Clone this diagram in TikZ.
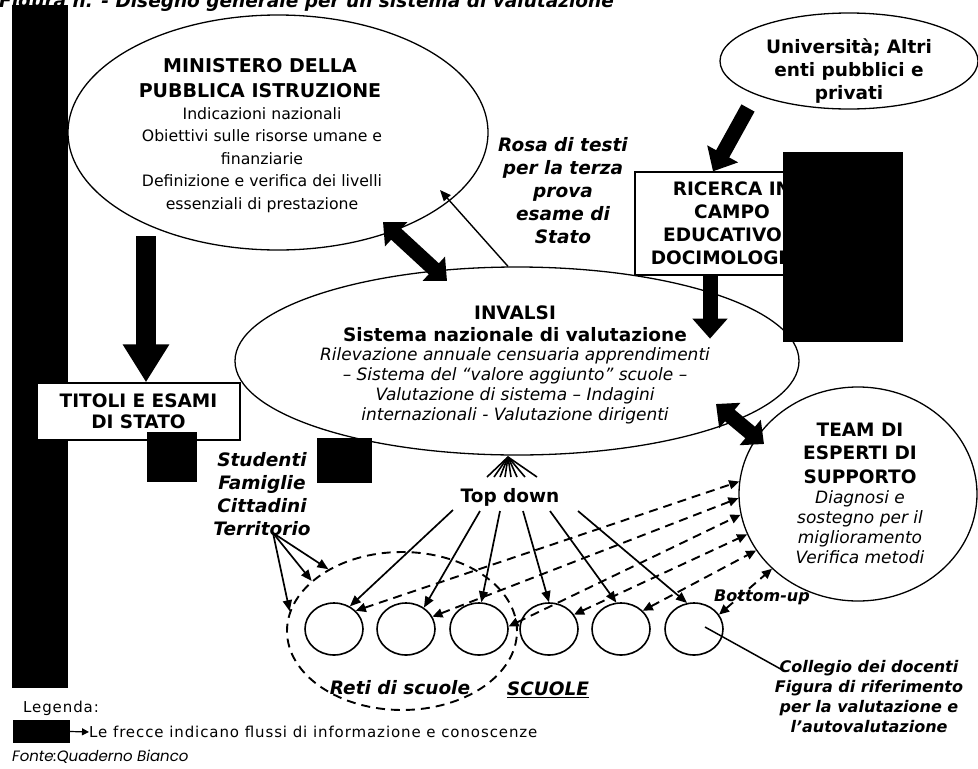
\documentclass[tikz,border=0pt]{standalone}
\usepackage{fontspec}
\setmainfont{DejaVu Sans}
\newfontfamily\legfont{DejaVu Sans}[LetterSpace=6]
\newfontfamily\srcfont{Poppins}
\usetikzlibrary{shapes.geometric,arrows.meta}
\newcommand{\fHd}{\fontsize{18.5}{23}\selectfont\bfseries}
\newcommand{\fReg}{\fontsize{15.7}{22.5}\selectfont\mdseries\upshape}
\newcommand{\fIt}{\fontsize{17}{20}\selectfont\mdseries\itshape}
\newcommand{\fBi}{\fontsize{18.5}{23}\selectfont\bfseries\itshape}
\newcommand{\fBs}{\fontsize{16}{20}\selectfont\bfseries\itshape}
\begin{document}
\begin{tikzpicture}[x=1pt,y=-1pt,
  outl/.style={draw=black,line width=1.3pt},
  oval/.style={ellipse,outl,inner sep=0pt},
  txt/.style={align=center,inner sep=0pt},
  fat/.style={draw=black,line width=15pt,-{Triangle[length=20pt,width=34pt]}},
  fatdbl/.style={draw=black,line width=15pt,{Triangle[length=18pt,width=32pt]}-{Triangle[length=18pt,width=32pt]}},
  thinarr/.style={draw=black,line width=1.7pt,-{Triangle[length=11pt,width=9pt]}},
  dasharr/.style={draw=black,line width=1.9pt,dash pattern=on 9pt off 6pt,{Triangle[length=10pt,width=9pt]}-{Triangle[length=10pt,width=9pt]}},
  school/.style={ellipse,outl,line width=1.6pt,minimum width=58pt,minimum height=52pt,inner sep=0pt},
]
\useasboundingbox (0,0) rectangle (978,769);
% title (cut at the top, as in the reference)
\node[anchor=base west,inner sep=0pt,font=\fBi] (title) at (-1,7) {Figura n. - Disegno generale per un sistema di valutazione};
% left bar
\fill (12,5) rectangle (68,688);
% ovals
\node[oval,minimum width=420pt,minimum height=235pt] (min) at (278,132.5) {};
\node[oval,minimum width=258pt,minimum height=96pt] (univ) at (849,61) {};
\node[oval,minimum width=564pt,minimum height=188pt] (inv) at (517,361) {};
\node[oval,fill=white,minimum width=238pt,minimum height=214pt] (team) at (858,494) {};
\node[ellipse,draw=black,line width=1.9pt,dash pattern=on 9pt off 6pt,minimum width=230pt,minimum height=158pt,inner sep=0pt] (reti) at (402,631) {};
% schools
\node[school] (s1) at (334,629) {};
\node[school] (s2) at (406,629) {};
\node[school] (s3) at (479,629) {};
\node[school] (s4) at (549,629) {};
\node[school] (s5) at (621,629) {};
\node[school] (s6) at (694,629) {};
% boxes
\node[outl,fill=white,minimum width=203pt,minimum height=57pt,inner sep=0pt,align=center,font={\fontsize{18.5}{21}\selectfont\bfseries}] (titoli) at (138.5,411.5) {TITOLI E ESAMI\\DI STATO};
\node[outl,fill=white,minimum width=194pt,minimum height=103pt,inner sep=0pt,align=center,font=\fHd] (ric) at (732,223.5) {RICERCA IN\\CAMPO\\EDUCATIVO E\\DOCIMOLOGICA};
% texts
\node[txt,font={\fontsize{19}{24.5}\selectfont\bfseries}] (minh) at (260,78) {MINISTERO DELLA\\PUBBLICA ISTRUZIONE};
\node[txt,font=\fReg] (minb) at (262,160) {Indicazioni nazionali\\Obiettivi sulle risorse umane e\\finanziarie\\Definizione e verifica dei livelli\\essenziali di prestazione};
\node[txt,font=\fHd] (univt) at (849,71) {Università; Altri\\enti pubblici e\\privati};
\node[txt,font=\fBi] (rosa) at (563,191) {Rosa di testi\\per la terza\\prova\\esame di\\Stato};
\node[txt,font={\fontsize{18.5}{22}\selectfont\bfseries}] (invh) at (515,324) {INVALSI\\Sistema nazionale di valutazione};
\node[txt,font=\fIt] (invb) at (515,386) {Rilevazione annuale censuaria apprendimenti\\– Sistema del “valore aggiunto” scuole –\\Valutazione di sistema – Indagini\\internazionali - Valutazione dirigenti};
\node[txt,font=\fBi] (stud) at (262,494) {Studenti\\Famiglie\\Cittadini\\Territorio};
\node[txt,font=\fHd] (td) at (510,497) {Top down};
\node[txt,font={\fontsize{18.5}{23.5}\selectfont\bfseries}] (teamh) at (860,453) {TEAM DI\\ESPERTI DI\\SUPPORTO};
\node[txt,font=\fIt] (teamb) at (860,527) {Diagnosi e\\sostegno per il\\miglioramento\\Verifica metodi};
\node[txt,font=\fBs] (bu) at (762,597) {Bottom-up};
\node[txt,font=\fBi] (retit) at (400,688) {Reti di scuole};
\node[txt,font=\fBi] (scu) at (548,690) {\underline{SCUOLE}};
\node[txt,font=\fBs] (coll) at (869,697) {Collegio dei docenti\\Figura di riferimento\\per la valutazione e\\l’autovalutazione};
% legend
\node[anchor=west,inner sep=0pt,font={\legfont\fontsize{15}{17}\selectfont}] (legt) at (23,708) {Legenda:};
\node[fill=black,minimum width=57pt,minimum height=23pt,inner sep=0pt] (legbox) at (41.5,731.5) {};
\node[anchor=west,inner sep=0pt,font={\legfont\fontsize{15}{17}\selectfont}] (legtxt) at (89,732) {Le frecce indicano flussi di informazione e conoscenze};
\draw[draw=black,line width=1.2pt,-{Triangle[length=7pt,width=7pt]}] (legbox.east) -- (legtxt.west);
\node[anchor=west,inner sep=0pt,font={\srcfont\itshape\fontsize{15}{17}\selectfont}] (src) at (12,757) {Fonte:Quaderno Bianco};
% thick arrows
\coordinate (mt) at (146,236);
\draw[draw=black,line width=20pt,-{Triangle[length=38pt,width=44pt]}] (mt) -- (mt |- titoli.north);
\coordinate (ua) at (748,108);
\draw[fat] (ua) -- ([xshift=-19pt]ric.north);
\draw[fat] ([xshift=-22pt]ric.south) -- ([xshift=-22pt,yshift=-63pt]ric.south);
\coordinate (mi1) at (383,222);
\coordinate (iv1) at (447,281);
\draw[fatdbl] (mi1) -- (iv1);
\coordinate (iv2) at (716,404);
\coordinate (tm1) at (764,444);
\draw[fatdbl] (iv2) -- (tm1);
% thin arrow to ministry
\coordinate (mi2) at (440,190);
\draw[thinarr,line width=1.4pt] ([xshift=-9pt]inv.north) -- (mi2);
% fan under INVALSI
\coordinate (fan) at (508,457);
\foreach \x in {487,494,500,505,511,517,525,537} \draw[line width=1.6pt] (fan) -- (\x,477);
% top-down arrows
\coordinate (t1) at (453,510);
\coordinate (t2) at (480,511);
\coordinate (t3) at (500,511);
\coordinate (t4) at (523,511);
\coordinate (t5) at (550,511);
\coordinate (t6) at (578,511);
\draw[thinarr] (t1) -- (s1.55);
\draw[thinarr] (t2) -- (s2.50);
\draw[thinarr] (t3) -- (s3.85);
\draw[thinarr] (t4) -- (s4.90);
\draw[thinarr] (t5) -- (s5.100);
\draw[thinarr] (t6) -- (s6.105);
% bottom-up dashed arrows
\draw[dasharr] (s1.40) -- (team.174);
\draw[dasharr] (s2.25) -- (team.182);
\draw[dasharr] (s3.5) -- (team.190);
\draw[dasharr] (s4.30) -- (team.200);
\draw[dasharr] (s5.40) -- (team.209);
\draw[dasharr] (s6.30) -- (team.221);
% territorio arrows
\coordinate (terr) at (273,533);
\draw[thinarr] (terr) -- (reti.140);
\draw[thinarr] (terr) -- (reti.151);
\draw[thinarr] (terr) -- (reti.170);
% collegio line
\draw[line width=1.5pt] ([xshift=11pt,yshift=2pt]s6.center) -- ([xshift=7pt,yshift=-9pt]coll.north west);
% black blocks
\fill (783,152) rectangle (903,342);
\fill (147,432) rectangle (197,482);
\fill (317,438) rectangle (372,483);
\end{tikzpicture}
\end{document}
